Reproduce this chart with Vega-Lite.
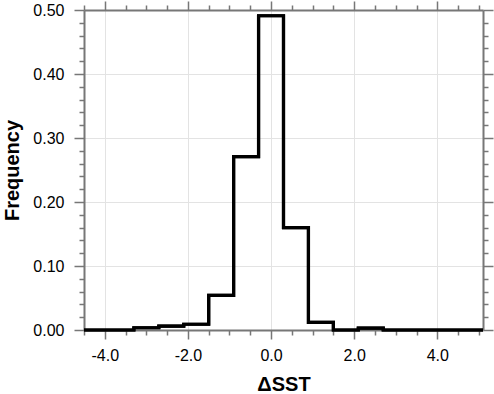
{
  "$schema": "https://vega.github.io/schema/vega-lite/v6.json",
  "width": 399,
  "height": 320,
  "autosize": {"type": "none"},
  "padding": {"left": 84, "top": 10, "right": 11, "bottom": 64},
  "background": "white",
  "config": {
    "view": {"stroke": null},
    "axis": {
      "labelFont": "Liberation Sans",
      "labelFontSize": 16,
      "labelColor": "black",
      "titleFont": "Liberation Sans",
      "titleFontSize": 20,
      "titleFontWeight": "bold",
      "titleColor": "black",
      "domainColor": "#777777",
      "domainWidth": 2,
      "tickColor": "#777777",
      "tickWidth": 1.5,
      "gridColor": "#e3e3e3",
      "gridWidth": 1
    }
  },
  "data": {
    "values": [
      {"edge": -4.5, "freq": 0},
      {"edge": -3.9, "freq": 0},
      {"edge": -3.3, "freq": 0.0035},
      {"edge": -2.7, "freq": 0.006},
      {"edge": -2.1, "freq": 0.009},
      {"edge": -1.5, "freq": 0.054},
      {"edge": -0.9, "freq": 0.271},
      {"edge": -0.3, "freq": 0.491},
      {"edge": 0.3, "freq": 0.16},
      {"edge": 0.9, "freq": 0.012},
      {"edge": 1.5, "freq": 0},
      {"edge": 2.1, "freq": 0.003},
      {"edge": 2.7, "freq": 0},
      {"edge": 3.3, "freq": 0},
      {"edge": 3.9, "freq": 0},
      {"edge": 4.5, "freq": 0},
      {"edge": 5.1, "freq": 0}
    ]
  },
  "layer": [
    {
      "mark": {"type": "line", "interpolate": "step-after", "color": "black", "strokeWidth": 3.2, "clip": false},
      "encoding": {
        "x": {
          "field": "edge", "type": "quantitative",
          "scale": {"domain": [-4.5, 5.1], "nice": false, "zero": false},
          "axis": {
            "orient": "bottom",
            "title": "ΔSST",
            "titlePadding": 11,
            "values": [-4.5,-4,-3.5,-3,-2.5,-2,-1.5,-1,-0.5,0,0.5,1,1.5,2,2.5,3,3.5,4,4.5,5],
            "labelExpr": "abs(datum.value/2 - round(datum.value/2)) < 1e-6 ? replace(format(datum.value, '.1f'), '\u2212', '-') : ''",
            "labelPadding": 8,
            "tickSize": {"condition": {"test": "abs(datum.value/2 - round(datum.value/2)) < 1e-6", "value": 9}, "value": 5},
            "gridOpacity": {"condition": {"test": "abs(datum.value/2 - round(datum.value/2)) < 1e-6", "value": 1}, "value": 0},
            "labelFlush": false
          }
        },
        "y": {
          "field": "freq", "type": "quantitative",
          "scale": {"domain": [0, 0.5], "nice": false},
          "axis": {
            "orient": "left",
            "title": "Frequency",
            "titlePadding": 10,
            "values": [0,0.02,0.04,0.06,0.08,0.1,0.12,0.14,0.16,0.18,0.2,0.22,0.24,0.26,0.28,0.3,0.32,0.34,0.36,0.38,0.4,0.42,0.44,0.46,0.48,0.5],
            "labelExpr": "abs(datum.value*10 - round(datum.value*10)) < 1e-6 ? format(datum.value, '.2f') : ''",
            "labelPadding": 10,
            "tickSize": {"condition": {"test": "abs(datum.value*10 - round(datum.value*10)) < 1e-6", "value": 10}, "value": 5},
            "gridOpacity": {"condition": {"test": "abs(datum.value*10 - round(datum.value*10)) < 1e-6", "value": 1}, "value": 0},
            "labelFlush": false
          }
        }
      }
    },
    {
      "mark": {"type": "line", "interpolate": "step-after", "color": "black", "strokeWidth": 3.2, "clip": false},
      "encoding": {
        "x": {
          "field": "edge", "type": "quantitative",
          "axis": {
            "orient": "top",
            "title": null,
            "labels": false,
            "grid": false,
            "values": [-4.5,-4,-3.5,-3,-2.5,-2,-1.5,-1,-0.5,0,0.5,1,1.5,2,2.5,3,3.5,4,4.5,5],
            "tickSize": {"condition": {"test": "abs(datum.value/2 - round(datum.value/2)) < 1e-6", "value": 9}, "value": 5}
          }
        },
        "y": {
          "field": "freq", "type": "quantitative",
          "axis": {
            "orient": "right",
            "title": null,
            "labels": false,
            "grid": false,
            "values": [0,0.02,0.04,0.06,0.08,0.1,0.12,0.14,0.16,0.18,0.2,0.22,0.24,0.26,0.28,0.3,0.32,0.34,0.36,0.38,0.4,0.42,0.44,0.46,0.48,0.5],
            "tickSize": {"condition": {"test": "abs(datum.value*10 - round(datum.value*10)) < 1e-6", "value": 10}, "value": 5}
          }
        }
      }
    }
  ],
  "resolve": {"axis": {"x": "independent", "y": "independent"}}
}
